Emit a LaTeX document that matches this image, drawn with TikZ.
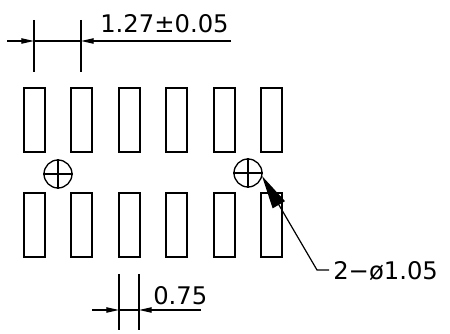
\documentclass[tikz,border=0pt]{standalone}
\usepackage{fontspec}
\setmainfont{DejaVu Sans}
\usetikzlibrary{arrows.meta}
\tikzset{
  pad/.style={draw, line width=1pt, minimum width=15.6pt, minimum height=48pt, inner sep=0pt},
  dimline/.style={line width=0.9pt},
  dimtip/.style={-{Stealth[length=9.5pt,width=4pt,inset=0pt]}},
  dimtext/.style={inner sep=0pt, font=\fontsize{18.2}{20}\selectfont}
}
\begin{document}
\begin{tikzpicture}[x=0.75pt,y=-0.75pt]
\useasboundingbox (0,0) rectangle (450,334);
\foreach \i/\x in {1/34.5,2/81.5,3/129.5,4/176.5,5/224.5,6/271.5} {
  \node[pad] (t\i) at (\x,120) {};
  \node[pad] (b\i) at (\x,225) {};
}
% holes
\foreach \n/\x/\y in {h1/58/174,h2/248/173} {
  \node[draw, circle, line width=1pt, minimum size=21pt, inner sep=0pt] (\n) at (\x,\y) {};
  \draw[line width=0.9pt] (\n.west)--(\n.east);
  \draw[line width=0.9pt] (\n.north)--(\n.south);
}
% pitch
\coordinate (p1t) at (34,20); \coordinate (p1b) at (34,72);
\coordinate (p2t) at (81,20); \coordinate (p2b) at (81,72);
\coordinate (p1) at (34,41); \coordinate (p2) at (81,41);
\coordinate (p0) at (7,41); \coordinate (p3) at (231,41);
\draw[dimline] (p1t)--(p1b);
\draw[dimline] (p2t)--(p2b);
\draw[dimline] (p1)--(p2);
\draw[dimline,dimtip] (p0)--(p1);
\draw[dimline,dimtip] (p3)--(p2);
\node[dimtext, anchor=base west] (pitch) at (100,33) {1.27±0.05};
% width
\coordinate (w1t) at (119,274); \coordinate (w1b) at (119,330);
\coordinate (w2t) at (139,274); \coordinate (w2b) at (139,330);
\coordinate (w1) at (119,310); \coordinate (w2) at (139,310);
\coordinate (w0) at (92,310); \coordinate (w3) at (201,310);
\draw[dimline] (w1t)--(w1b);
\draw[dimline] (w2t)--(w2b);
\draw[dimline] (w1)--(w2);
\draw[dimline,dimtip] (w0)--(w1);
\draw[dimline,dimtip] (w3)--(w2);
\node[dimtext, anchor=base west] (width) at (153,305) {0.75};
% leader
\coordinate (l1) at (329,270); \coordinate (l2) at (317,270); \coordinate (l3) at (262,176);
\draw[dimline,-{Stealth[length=25pt,width=10.5pt,inset=0pt]}] (l1)--(l2)--(l3);
\node[dimtext, anchor=base west] (dia) at (333,280) {2−ø1.05};
\end{tikzpicture}
\end{document}
